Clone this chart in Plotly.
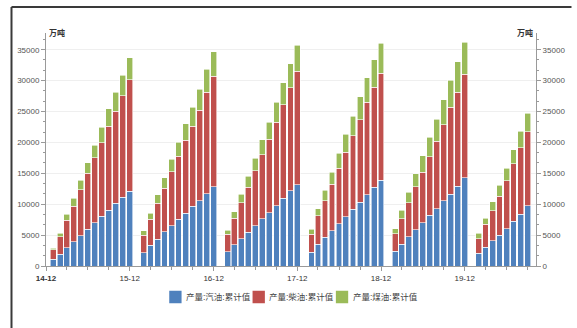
import plotly.graph_objects as go

# Monthly cumulative refined-product output (万吨), Jan-Feb combined from 2016 on
months = (
    [f"2015-{m:02d}-01" for m in range(1, 13)]
    + [f"2016-{m:02d}-01" for m in range(2, 13)]
    + [f"2017-{m:02d}-01" for m in range(2, 13)]
    + [f"2018-{m:02d}-01" for m in range(2, 13)]
    + [f"2019-{m:02d}-01" for m in range(2, 13)]
    + [f"2020-{m:02d}-01" for m in range(2, 10)]
)

gasoline = [
    1080, 1900, 2980, 3960, 4930, 5960, 6990, 8080, 9050, 10140, 11100, 12090,
    2170, 3360, 4340, 5530, 6500, 7590, 8560, 9650, 10590, 11670, 12860,
    2320, 3400, 4380, 5460, 6490, 7620, 8650, 9780, 10970, 12160, 13130,
    2220, 3510, 4650, 5680, 6810, 8000, 9190, 10320, 11510, 12760, 13850,
    2350, 3550, 4750, 5900, 6990, 8190, 9280, 10540, 11630, 12890, 14250,
    2070, 3000, 4100, 4970, 6060, 7260, 8410, 9720,
]
diesel = [
    1520, 2800, 4420, 5690, 7430, 9040, 10510, 11870, 13550, 14910, 16450, 18010,
    2820, 4230, 5850, 7040, 8780, 10130, 11770, 12940, 14600, 16430, 17840,
    2810, 4330, 5890, 7300, 8910, 10380, 11890, 13460, 15130, 16650, 18380,
    2910, 4600, 5940, 7560, 9030, 10430, 11890, 13350, 14970, 16160, 17300,
    2840, 4090, 5510, 6930, 8190, 9450, 10920, 12280, 14030, 15230, 16760,
    2350, 3720, 4800, 6340, 7750, 9280, 10750, 12010,
]
kerosene = [
    280, 640, 980, 1330, 1480, 1720, 2000, 2500, 2820, 3090, 3350, 3630,
    700, 970, 1300, 1680, 1960, 2330, 2700, 3080, 3420, 3700, 4000,
    650, 1080, 1350, 1730, 2060, 2430, 2760, 3240, 3520, 3890, 4220,
    820, 1130, 1630, 1950, 2430, 2920, 3130, 3680, 3950, 4480, 4900,
    870, 1370, 1700, 2080, 2620, 3160, 3550, 4100, 4370, 4910, 5190,
    880, 1030, 1530, 1740, 2030, 2300, 2680, 3000,
]

series_names = ["产量:汽油:累计值", "产量:柴油:累计值", "产量:煤油:累计值"]
series_colors = ["#4F81BD", "#C0504D", "#9BBB59"]

tick_dates = ["2014-12-01", "2015-12-01", "2016-12-01", "2017-12-01", "2018-12-01", "2019-12-01"]
tick_labels = ["<b>14-12</b>", "15-12", "16-12", "17-12", "18-12", "19-12"]

FONT = "Liberation Sans, Noto Sans CJK SC, sans-serif"
DAY_MS = 86400000
bar_width = 25.5 * DAY_MS

W, H = 577, 328
M_L, M_R, M_T, M_B = 46, 34, 33, 62
PLOT_W = W - M_L - M_R
PLOT_H = H - M_T - M_B


def px_x(px):
    """Pixel column -> paper x fraction."""
    return (px - M_L) / PLOT_W


def px_y(py):
    """Pixel row -> paper y fraction."""
    return (H - M_B - py) / PLOT_H


fig = go.Figure()
for name, vals, color in zip(series_names, [gasoline, diesel, kerosene], series_colors):
    fig.add_trace(go.Bar(
        x=months, y=vals, name=name, width=bar_width, showlegend=False,
        marker=dict(color=color, line=dict(color="white", width=0.6)),
    ))

# mirror axis on the right side
fig.add_trace(go.Scatter(x=[months[0]], y=[0], yaxis="y2", mode="markers",
                         marker=dict(opacity=0), showlegend=False, hoverinfo="skip"))

axis_color = "#9A9A9A"
y_common = dict(
    range=[0, 37700], dtick=5000, tick0=0, tickformat="d",
    showline=True, linecolor=axis_color, linewidth=1,
    ticks="outside", ticklen=4, tickcolor=axis_color,
    tickfont=dict(family=FONT, size=8, color="#555555"),
    minor=dict(dtick=5000 / 3, ticks="outside", ticklen=2, tickcolor=axis_color, showgrid=False),
    zeroline=False,
)

# compact legend row under the plot: swatch + label per series
shapes = []
annotations = []
LEG_X0, LEG_PITCH, LEG_Y, SW = 171, 84.5, 297, 12.5
for i, (name, color) in enumerate(zip(series_names, series_colors)):
    x0 = LEG_X0 + i * LEG_PITCH
    shapes.append(dict(type="rect", xref="paper", yref="paper",
                       x0=px_x(x0), x1=px_x(x0 + SW),
                       y0=px_y(LEG_Y + SW / 2), y1=px_y(LEG_Y - SW / 2),
                       fillcolor=color, line=dict(width=0)))
    annotations.append(dict(text=name, xref="paper", yref="paper",
                            x=px_x(x0 + SW + 2.5), y=px_y(LEG_Y),
                            xanchor="left", yanchor="middle", showarrow=False,
                            font=dict(family=FONT, size=8.5, color="#444444")))

# unit labels at the top of both value axes
annotations += [
    dict(text="<b>万吨</b>", xref="paper", yref="paper", x=0.003, y=1.0,
         xanchor="left", yanchor="middle", showarrow=False,
         font=dict(family=FONT, size=8, color="#333333")),
    dict(text="<b>万吨</b>", xref="paper", yref="paper", x=0.997, y=1.0,
         xanchor="right", yanchor="middle", showarrow=False,
         font=dict(family=FONT, size=8, color="#333333")),
]

# outer frame edges (left and top)
shapes += [
    dict(type="line", xref="paper", yref="paper", x0=px_x(11), x1=px_x(11),
         y0=px_y(H + 2), y1=px_y(7), line=dict(color="#3A3A3A", width=2)),
    dict(type="line", xref="paper", yref="paper", x0=px_x(11), x1=px_x(W + 2),
         y0=px_y(7), y1=px_y(7), line=dict(color="#3A3A3A", width=2)),
]

fig.update_layout(
    width=W, height=H,
    margin=dict(l=M_L, r=M_R, t=M_T, b=M_B),
    paper_bgcolor="white", plot_bgcolor="white",
    barmode="stack",
    font=dict(family=FONT, size=9, color="#333333"),
    xaxis=dict(
        type="date", range=["2014-12-01", "2020-10-07"],
        tickmode="array", tickvals=tick_dates, ticktext=tick_labels,
        showline=True, linecolor=axis_color, linewidth=1,
        ticks="outside", ticklen=4, tickcolor=axis_color,
        tickfont=dict(family=FONT, size=8, color="#333333"),
        minor=dict(dtick="M3", tick0="2014-12-01", ticks="outside", ticklen=3, tickcolor=axis_color),
        showgrid=False,
    ),
    yaxis=dict(**y_common, showgrid=True, gridcolor="#EFEFEF", gridwidth=1),
    yaxis2=dict(**y_common, overlaying="y", side="right", showgrid=False),
    showlegend=False,
    annotations=annotations,
    shapes=shapes,
)

fig.write_html("out.html")
